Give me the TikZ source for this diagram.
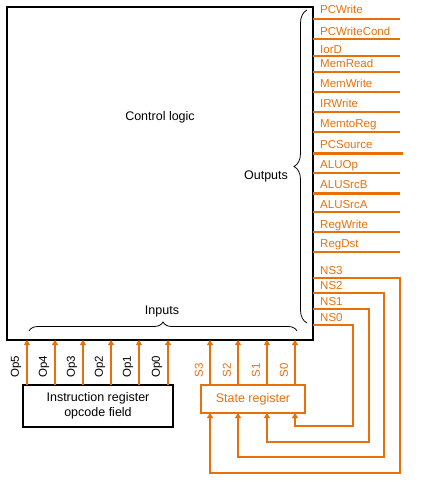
\documentclass[tikz,border=0pt]{standalone}
\usepackage{fontspec}
\setmainfont{Liberation Sans}
\usetikzlibrary{arrows.meta,decorations.pathreplacing}
\definecolor{org}{RGB}{232,112,10}
\begin{document}
\begin{tikzpicture}[x=1pt,y=-1pt,
  txt/.style={font=\fontsize{12.5}{15}\selectfont, inner sep=0, align=center},
  olab/.style={text=org, font=\fontsize{11.5}{12}\selectfont, anchor=base west, inner sep=0},
  wire/.style={draw=org, line width=2pt},
  arr/.style={wire, -{Triangle[length=5pt,width=6pt]}},
  brc/.style={draw, line width=0.8pt, decorate},
  vlab/.style={rotate=90, font=\fontsize{11.5}{12}\selectfont, inner sep=0}]
\useasboundingbox (0,0) rectangle (430,493);
% control logic box
\node[draw, line width=2pt, minimum width=306pt, minimum height=333pt, inner sep=0, outer sep=0] (cl) at (160,173.5) {};
\node[txt] (cltxt) at (160,117) {Control logic};
% registers
\node[draw, line width=2pt, minimum width=150pt, minimum height=42pt, inner sep=0, outer sep=0, txt] (ir) at (98,406) {Instruction register\\opcode field};
\node[draw=org, line width=2pt, minimum width=104pt, minimum height=28pt, inner sep=0, outer sep=0, txt, text=org] (sr) at (253,399) {State register};
% outputs
\foreach \nm/\ly/\by/\lw/\xe in {PCWrite/19/13.5/2/400, PCWriteCond/39/35/2/400, IorD/56/53/2/400, MemRead/72/67/2/400, MemWrite/92/87/2/400, IRWrite/112/107/2/400, MemtoReg/132/127/2/400, PCSource/153/148/3/403, ALUOp/173/168/2/400, ALUSrcB/193/188/3/400, ALUSrcA/212/208/2/400, RegWrite/232/228/2/400, RegDst/252/247/2/400}{
  \coordinate (e\nm) at (\xe,\ly);
  \draw[wire, line width=\lw pt] (e\nm -| cl.east) -- (e\nm);
  \node[olab] (l\nm) at (320,\by) {\nm};
}
% next state
\coordinate (n3) at (400,278); \coordinate (n2) at (384,293);
\coordinate (n1) at (369,309); \coordinate (n0) at (353,325);
\coordinate (s3) at (210,473); \coordinate (s2) at (238,457);
\coordinate (s1) at (267,442); \coordinate (s0) at (295,426);
\node[olab] (lNS3) at (320,274) {NS3};
\node[olab] (lNS2) at (320,289) {NS2};
\node[olab] (lNS1) at (320,305) {NS1};
\node[olab] (lNS0) at (320,321) {NS0};
\draw[arr] (n3 -| cl.east) -- (n3) |- (s3) -- (s3 |- sr.south);
\draw[arr] (n2 -| cl.east) -- (n2) |- (s2) -- (s2 |- sr.south);
\draw[arr] (n1 -| cl.east) -- (n1) |- (s1) -- (s1 |- sr.south);
\draw[arr] (n0 -| cl.east) -- (n0) |- (s0) -- (s0 |- sr.south);
% state bits
\foreach \i/\x in {3/210,2/238,1/267,0/295}{
  \coordinate (sx\i) at (\x,0);
  \draw[arr] (sx\i |- sr.north) -- (sx\i |- cl.south);
  \node[vlab, text=org] (lS\i) at (\x-11,370) {S\i};
}
% opcode bits
\foreach \i/\x in {5/27,4/55,3/83,2/111,1/139,0/168}{
  \coordinate (ox\i) at (\x,0);
  \draw[arr] (ox\i |- ir.north) -- (ox\i |- cl.south);
  \node[vlab] (lOp\i) at (\x-11,367) {Op\i};
}
% braces
\draw[brc, decoration={brace, amplitude=9pt}] (29,331) -- (297,331);
\node[txt] (inp) at (162,311) {Inputs};
\draw[brc, decoration={brace, amplitude=13pt}] (307,323) -- (307,10);
\node[txt] (outp) at (266,176) {Outputs};
\end{tikzpicture}
\end{document}
